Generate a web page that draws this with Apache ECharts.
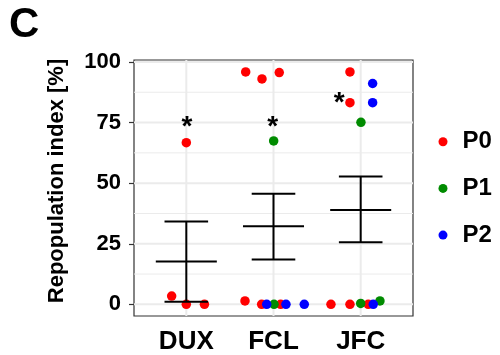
<!DOCTYPE html>
<html>
<head>
<meta charset="utf-8">
<script src="https://cdn.jsdelivr.net/npm/echarts@6/dist/echarts.min.js"></script>
<style>html,body{margin:0;padding:0;background:#fff}#c{width:500px;height:355px}</style>
</head>
<body>
<div id="c"></div>
<script>
// ---- data ----
const categories = ['DUX', 'FCL', 'JFC'];
const yTicks = [0, 25, 50, 75, 100];
const yMinorTicks = [12.5, 37.5, 62.5, 87.5];
const groups = ['P0', 'P1', 'P2'];

// each point: category index (1-based), horizontal jitter (in category units), value
const p0Cat    = [1, 1, 1, 1, 2, 2, 2, 2, 2, 2, 3, 3, 3, 3, 3];
const p0Jitter = [0.0, -0.168, 0.0, 0.208, -0.327, -0.319, -0.132, 0.066, -0.136, 0.082, -0.123, -0.123, -0.341, -0.123, 0.087];
const p0Value  = [66.7, 3.4, 0, 0, 1.4, 95.9, 93.0, 95.6, 0, 0, 95.9, 83.2, 0, 0, 0];

const p1Cat    = [2, 2, 3, 3, 3];
const p1Jitter = [0.002, 0.006, 0.003, 0.0, 0.221];
const p1Value  = [67.4, 0, 75.1, 0.4, 1.4];

const p2Cat    = [2, 2, 2, 3, 3, 3];
const p2Jitter = [-0.078, 0.143, 0.353, 0.137, 0.137, 0.144];
const p2Value  = [0, 0, 0, 91.1, 83.2, 0];

const meanValues  = [17.7, 32.2, 38.9];
const lowerValues = [1.1, 18.5, 25.6];
const upperValues = [34.2, 45.6, 52.7];

const starCat    = [1, 2, 3];
const starJitter = [0.008, -0.01, -0.246];
const starValue  = [75, 75, 85];

// ---- build ----
const FONT = '"Liberation Sans", Arial, Helvetica, sans-serif';
const colors = ['#FF0000', '#008B00', '#0000FF'];
function pts(cat, jit, val) { return cat.map((c, i) => [c + jit[i], val[i]]); }
const pointSets = [pts(p0Cat, p0Jitter, p0Value), pts(p1Cat, p1Jitter, p1Value), pts(p2Cat, p2Jitter, p2Value)];
const errData = categories.map((c, i) => [i + 1, meanValues[i], lowerValues[i], upperValues[i]]);
const starData = starCat.map((c, i) => [c + starJitter[i], starValue[i]]);

// gridline items: [x, y, kind]  kind 0 = horizontal major, 1 = horizontal minor, 2 = vertical
const gridData = [
  ...yTicks.map(v => [1, v, 0]),
  ...yMinorTicks.map(v => [1, v, 1]),
  ...categories.map((c, i) => [i + 1, 50, 2])
];

const chart = echarts.init(document.getElementById('c'), null, {renderer: 'canvas'});
const option = {
  animation: false,
  backgroundColor: '#fff',
  title: {
    text: 'C', left: 9, top: 4, padding: 0,
    textStyle: {fontFamily: FONT, fontSize: 42, fontWeight: 'bold', color: '#000'}
  },
  legend: {
    orient: 'vertical', left: 438.5, top: 129.7, padding: 0,
    itemWidth: 9, itemHeight: 9, itemGap: 22.7, icon: 'circle',
    data: groups,
    textStyle: {fontFamily: FONT, fontSize: 24, fontWeight: 'bold', color: '#000', lineHeight: 24, padding: [0, 0, 0, 10]}
  },
  grid: {left: 134, right: 87, top: 60, bottom: 38, show: true, borderColor: '#333333', borderWidth: 1.2},
  xAxis: {
    type: 'value', min: 0.4, max: 3.6,
    axisLine: {show: false},
    axisTick: {show: true, length: 5, customValues: [1, 2, 3], lineStyle: {color: '#333333', width: 1.2}},
    axisLabel: {customValues: [1, 2, 3], formatter: v => categories[Math.round(v) - 1], margin: 13,
      fontFamily: FONT, fontSize: 26, fontWeight: 'bold', color: '#000'},
    splitLine: {show: false}
  },
  yAxis: {
    type: 'value', min: -4.8, max: 100.8,
    name: 'Repopulation index [%]', nameLocation: 'middle', nameGap: 66, nameRotate: 90,
    nameTextStyle: {fontFamily: FONT, fontSize: 22, fontWeight: 'bold', color: '#000', padding: [0, 0, 0, 14]},
    axisLine: {show: false},
    axisTick: {show: true, length: 5, customValues: yTicks, lineStyle: {color: '#333333', width: 1.2}},
    axisLabel: {customValues: yTicks, margin: 13, fontFamily: FONT, fontSize: 22, fontWeight: 'bold', color: '#000'},
    splitLine: {show: false}
  },
  series: [
    {
      type: 'custom', data: gridData, z: 1, silent: true,
      renderItem: function (params, api) {
        const cs = params.coordSys;
        const kind = api.value(2);
        const p = api.coord([api.value(0), api.value(1)]);
        if (kind === 2) {
          return {type: 'line', shape: {x1: p[0], y1: cs.y, x2: p[0], y2: cs.y + cs.height},
            style: {stroke: '#EBEBEB', lineWidth: 2}};
        }
        return {type: 'line', shape: {x1: cs.x, y1: p[1], x2: cs.x + cs.width, y2: p[1]},
          style: {stroke: '#EBEBEB', lineWidth: kind === 0 ? 2 : 1}};
      }
    },
    ...groups.map((g, i) => ({
      name: g, type: 'scatter', data: pointSets[i], symbolSize: 9.5,
      itemStyle: {color: colors[i], opacity: 1}, z: 3
    })),
    {
      type: 'custom', data: errData, z: 4,
      renderItem: function (params, api) {
        const x = api.value(0);
        const pm = api.coord([x, api.value(1)]);
        const pl = api.coord([x, api.value(2)]);
        const ph = api.coord([x, api.value(3)]);
        const capHalf = api.size([0.25, 0])[0];
        const meanHalf = api.size([0.35, 0])[0];
        const st = {stroke: '#000', lineWidth: 2};
        return {type: 'group', children: [
          {type: 'line', shape: {x1: pl[0], y1: pl[1], x2: ph[0], y2: ph[1]}, style: st},
          {type: 'line', shape: {x1: ph[0] - capHalf, y1: ph[1], x2: ph[0] + capHalf, y2: ph[1]}, style: st},
          {type: 'line', shape: {x1: pl[0] - capHalf, y1: pl[1], x2: pl[0] + capHalf, y2: pl[1]}, style: st},
          {type: 'line', shape: {x1: pm[0] - meanHalf, y1: pm[1], x2: pm[0] + meanHalf, y2: pm[1]}, style: st}
        ]};
      }
    },
    {
      type: 'custom', data: starData, z: 5,
      renderItem: function (params, api) {
        const p = api.coord([api.value(0), api.value(1)]);
        return {type: 'text', x: p[0], y: p[1] + 5, style: {
          text: '*', fill: '#000', font: 'bold 28px ' + FONT, textAlign: 'center', textVerticalAlign: 'middle'}};
      }
    }
  ]
};
chart.setOption(option);
</script>
</body>
</html>
